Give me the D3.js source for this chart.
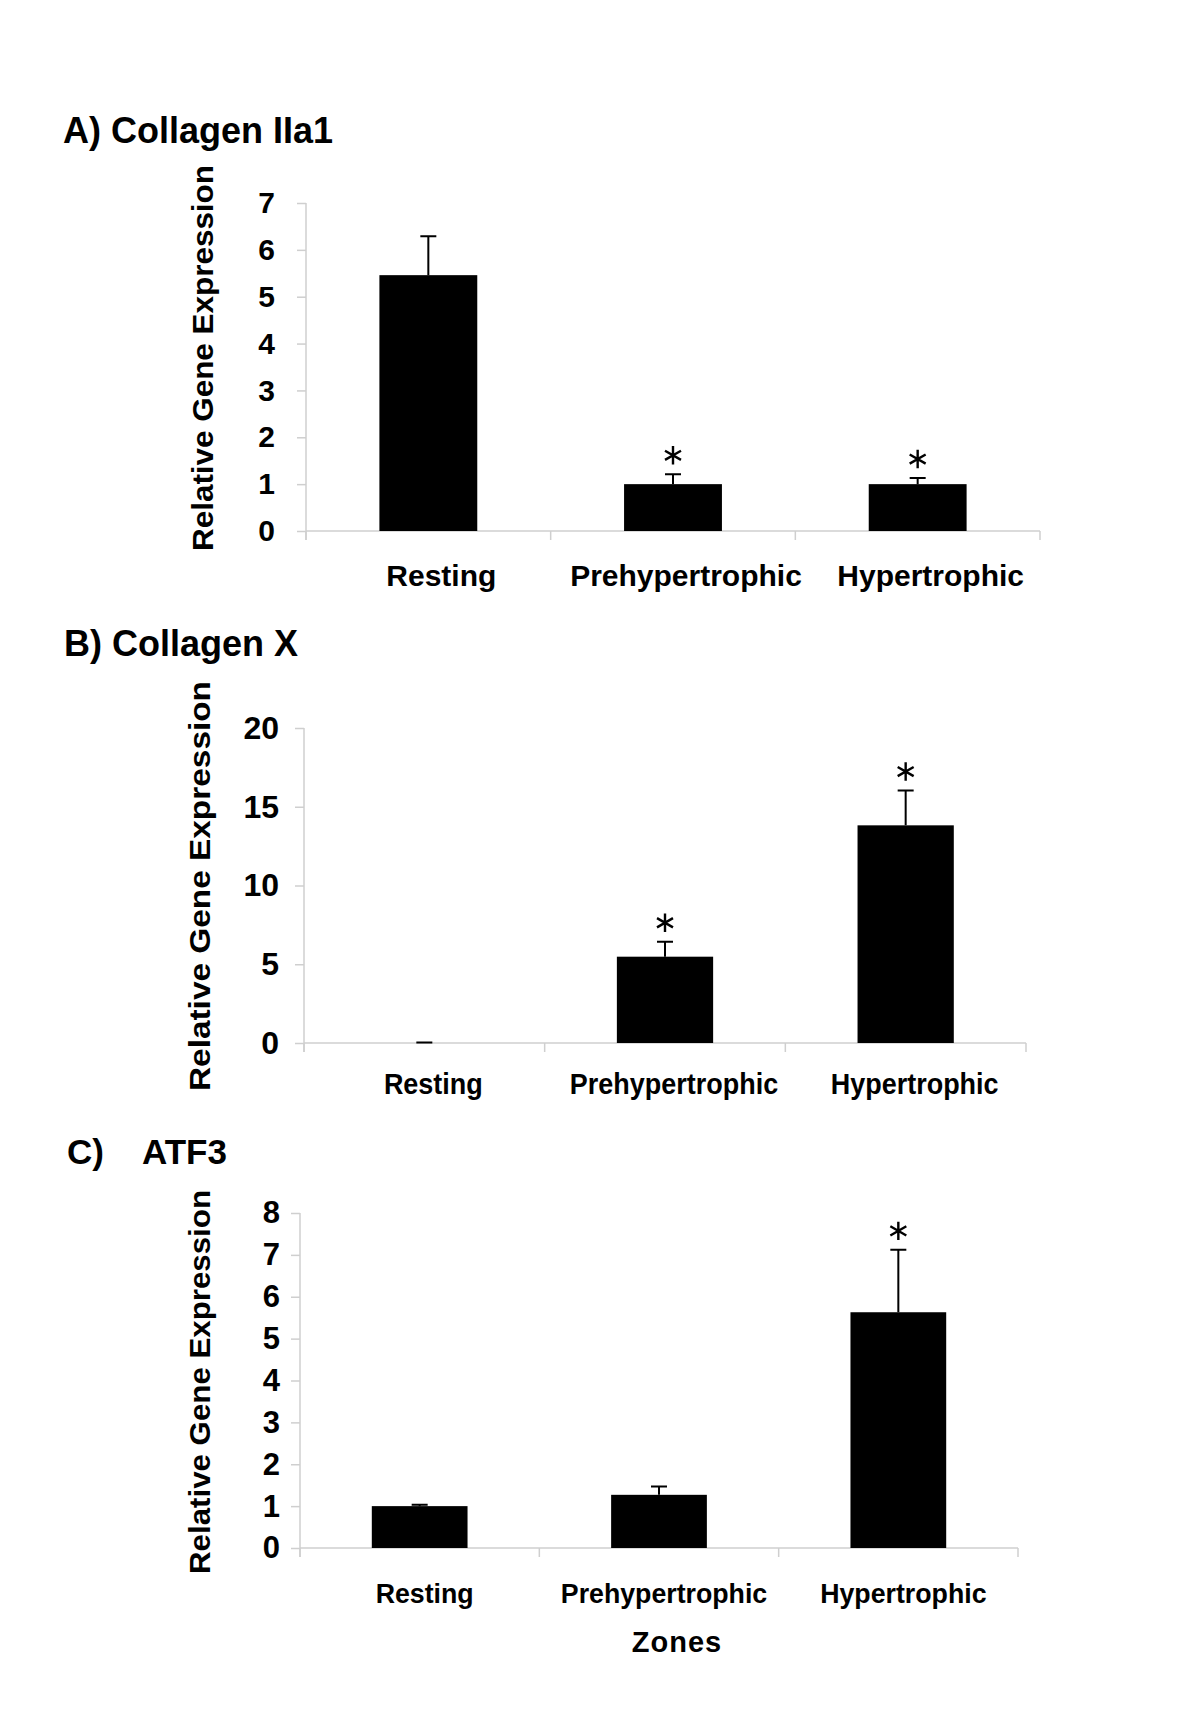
<!DOCTYPE html>
<html>
<head>
<meta charset="utf-8">
<script src="https://cdn.jsdelivr.net/npm/d3@7"></script>
<style>
  body { margin: 0; background: #fff; }
  svg text { font-family: "Liberation Sans", Arial, sans-serif; font-weight: bold; fill: #000; }
</style>
</head>
<body>
<svg class="fig" width="1200" height="1730"></svg>
<script>
var zones = ["Resting", "Prehypertrophic", "Hypertrophic"];

// A) Collagen IIa1
var col2Values = [5.46, 1.0, 1.0];
var col2Errors = [0.83, 0.21, 0.13];
var col2Sig = [false, true, true];
var col2Ticks = [0, 1, 2, 3, 4, 5, 6, 7];

// B) Collagen X
var col10Values = [0, 5.48, 13.82];
var col10Errors = [0.03, 0.95, 2.21];
var col10Sig = [false, true, true];
var col10Ticks = [0, 5, 10, 15, 20];

// C) ATF3
var atf3Values = [1.0, 1.27, 5.63];
var atf3Errors = [0.03, 0.2, 1.49];
var atf3Sig = [false, false, true];
var atf3Ticks = [0, 1, 2, 3, 4, 5, 6, 7, 8];

var svg = d3.select(".fig");

function drawPanel(p) {
  var data = zones.map(function(z, i) {
    return {zone: z, value: p.values[i], err: p.errors[i], sig: p.sig[i]};
  });

  var x = d3.scaleBand().domain(zones).range([p.left, p.right])
      .paddingInner(0.6).paddingOuter(0.3);
  var y = d3.scaleLinear().domain([0, d3.max(p.ticks)]).range([p.bottom, p.top]);

  // title
  var title = svg.append("text")
      .attr("x", p.titleX)
      .attr("y", p.titleY)
      .style("font-size", p.titleFont + "px");
  if (p.titleGap) {
    title.text(p.title[0]);
    svg.append("text").attr("x", p.titleGap).attr("y", p.titleY)
        .style("font-size", p.titleFont + "px").text(p.title[1]);
  } else {
    title.text(p.title);
  }

  // y axis
  var yAxis = svg.append("g")
      .attr("transform", "translate(" + p.left + ",0)")
      .call(d3.axisLeft(y).tickValues(p.ticks).tickFormat(d3.format("d"))
        .tickSize(9).tickSizeOuter(0).tickPadding(p.tickPad));
  yAxis.select(".domain").attr("stroke", "#cfcfcf").attr("stroke-width", 1.5)
      .attr("d", "M0," + y(d3.max(p.ticks)) + "V" + (p.bottom + 9));
  yAxis.selectAll(".tick line").attr("stroke", "#cfcfcf").attr("stroke-width", 1.5);
  yAxis.selectAll(".tick text")
      .style("font-size", p.tickFont + "px")
      .attr("fill", "#000");

  // x axis line with ticks at category boundaries
  svg.append("line")
      .attr("x1", p.left).attr("x2", p.right)
      .attr("y1", y(0)).attr("y2", y(0))
      .attr("stroke", "#cfcfcf").attr("stroke-width", 1.5);
  svg.selectAll(null)
      .data(d3.range(zones.length + 1))
    .enter().append("line")
      .attr("x1", function(i) { return p.left + i * x.step(); })
      .attr("x2", function(i) { return p.left + i * x.step(); })
      .attr("y1", y(0)).attr("y2", y(0) + 9)
      .attr("stroke", "#cfcfcf").attr("stroke-width", 1.5);

  // bars
  svg.selectAll(null)
      .data(data)
    .enter().append("rect")
      .attr("x", function(d) { return x(d.zone); })
      .attr("width", x.bandwidth())
      .attr("y", function(d) { return y(d.value); })
      .attr("height", function(d) { return y(0) - y(d.value); })
      .attr("fill", "#000");

  // error bars (upper only)
  var cx = function(d) { return x(d.zone) + x.bandwidth() / 2; };
  svg.selectAll(null)
      .data(data)
    .enter().append("path")
      .attr("d", function(d) {
        var top = y(d.value + d.err);
        return "M" + cx(d) + "," + y(d.value) + "V" + top +
               "M" + (cx(d) - 8) + "," + top + "H" + (cx(d) + 8);
      })
      .attr("stroke", "#000").attr("stroke-width", 2).attr("fill", "none");

  // significance stars
  svg.selectAll(null)
      .data(data.filter(function(d) { return d.sig; }))
    .enter().append("path")
      .attr("transform", function(d) {
        return "translate(" + cx(d) + "," + (y(d.value + d.err) - 19) + ")";
      })
      .attr("d", d3.symbol(d3.symbolAsterisk, 240))
      .attr("stroke", "#000").attr("stroke-width", 2.4).attr("fill", "none");

  // category labels
  svg.selectAll(null)
      .data(zones)
    .enter().append("text")
      .attr("transform", function(d) {
        return "translate(" + (x(d) + x.bandwidth() / 2 + p.labelDx) + "," + (y(0) + p.labelDy) + ") scale(" + p.labelStretch + ",1)";
      })
      .style("text-anchor", "middle")
      .style("font-size", p.labelFont + "px")
      .text(function(d) { return d; });

  // y axis title
  svg.append("text")
      .attr("transform", "translate(" + p.yTitleX + "," + p.yTitleY + ") rotate(-90)")
      .attr("dy", "0.35em")
      .attr("textLength", p.yTitleLen)
      .attr("lengthAdjust", "spacingAndGlyphs")
      .style("text-anchor", "middle")
      .style("font-size", "30px")
      .text("Relative Gene Expression");
}

drawPanel({
  title: "A) Collagen IIa1", titleX: 63, titleY: 143, titleFont: 36,
  values: col2Values, errors: col2Errors, sig: col2Sig, ticks: col2Ticks,
  left: 306, right: 1040, top: 203, bottom: 531,
  tickFont: 30, tickPad: 22,
  labelFont: 30, labelStretch: 1, labelDx: 13, labelDy: 55,
  yTitleX: 202, yTitleY: 358, yTitleLen: 386
});

drawPanel({
  title: "B) Collagen X", titleX: 64, titleY: 656, titleFont: 36,
  values: col10Values, errors: col10Errors, sig: col10Sig, ticks: col10Ticks,
  left: 304, right: 1026, top: 728, bottom: 1043,
  tickFont: 32, tickPad: 16,
  labelFont: 29, labelStretch: 0.93, labelDx: 9, labelDy: 51,
  yTitleX: 199, yTitleY: 886, yTitleLen: 410
});

drawPanel({
  title: ["C)", "ATF3"], titleGap: 142, titleX: 67, titleY: 1164, titleFont: 35,
  values: atf3Values, errors: atf3Errors, sig: atf3Sig, ticks: atf3Ticks,
  left: 300, right: 1018, top: 1213, bottom: 1548,
  tickFont: 31, tickPad: 11,
  labelFont: 28, labelStretch: 0.955, labelDx: 5, labelDy: 55,
  yTitleX: 199, yTitleY: 1382, yTitleLen: 384
});

// x axis title for the bottom panel
svg.append("text")
    .attr("x", 677)
    .attr("y", 1652)
    .style("text-anchor", "middle")
    .style("font-size", "29px")
    .style("letter-spacing", "1px")
    .text("Zones");
</script>
</body>
</html>
